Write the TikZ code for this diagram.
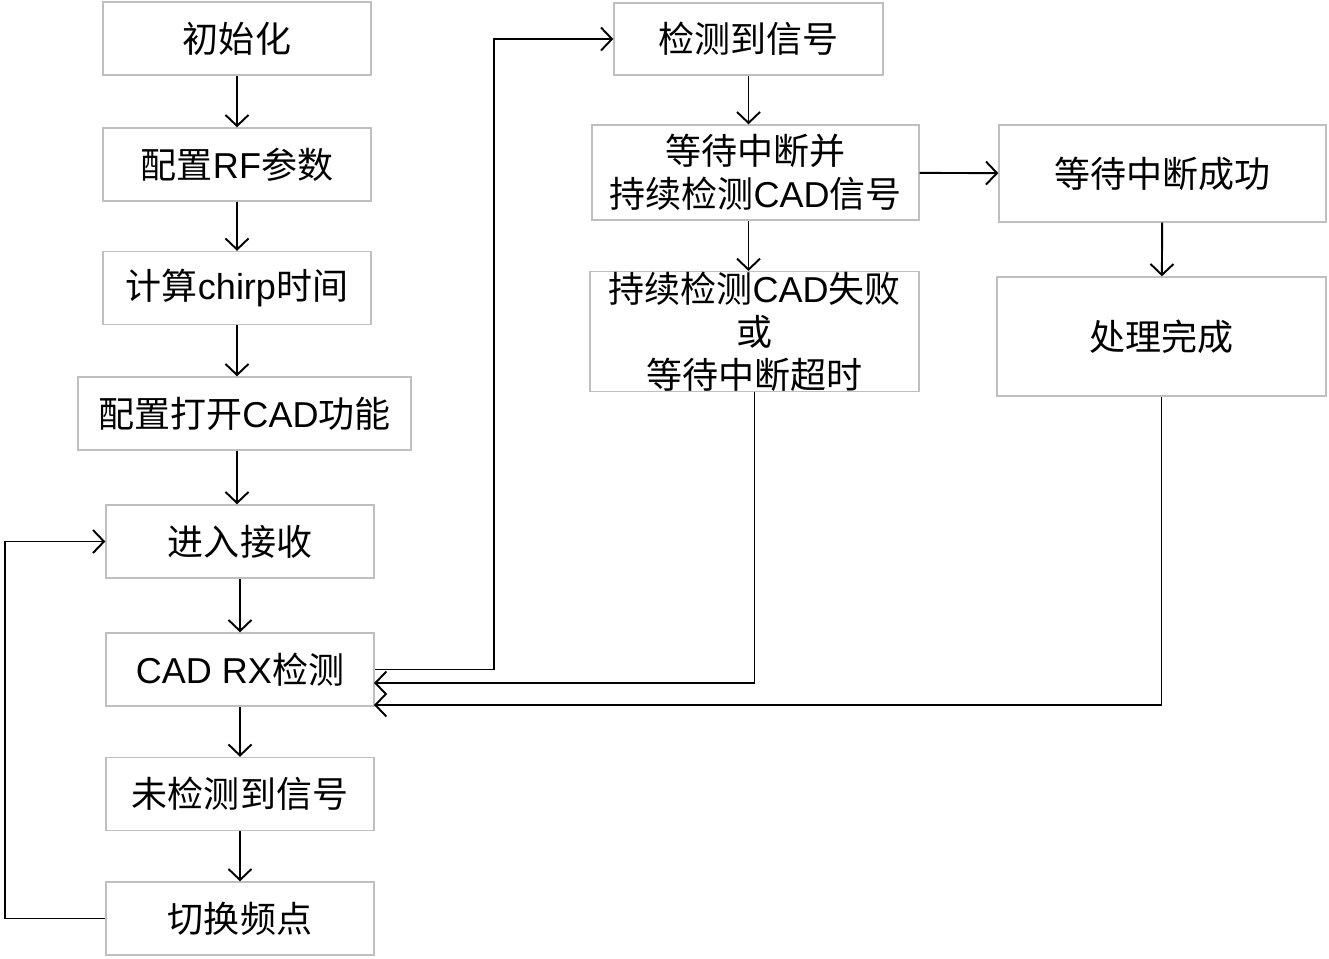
\documentclass[tikz,border=0pt]{standalone}
\usepackage{fontspec}
\setmainfont{Liberation Sans}
\newfontfamily\cjk{Noto Sans CJK SC}
\usetikzlibrary{arrows.meta}
\definecolor{boxgray}{RGB}{191,191,191}
\tikzset{
  box/.style={draw=boxgray, line width=0.8pt, fill=white, align=center, inner sep=0pt,
    minimum width=5.36cm, minimum height=1.46cm, font=\fontsize{20.5}{24.5}\selectfont},
  link/.style={-{Straight Barb[length=2.2mm,width=4.6mm]}, line width=1.1pt}
}
\begin{document}
\begin{tikzpicture}[x=0.02cm,y=-0.02cm]
        \useasboundingbox (0,0) rectangle (1329,958);
        \node[box] (init) at (237,38.5) {{\cjk 初始化}};
        \node[box] (rf) at (237,164.5) {{\cjk 配置}RF{\cjk 参数}};
        \node[box] (chirp) at (237,288) {{\cjk 计算}chirp{\cjk 时间}};
        \node[box,minimum width=6.66cm] (open) at (244.5,413.5) {{\cjk 配置打开}CAD{\cjk 功能}};
        \node[box] (rx) at (240,541.5) {{\cjk 进入接收}};
        \node[box] (cad) at (240,669.5) {CAD RX{\cjk 检测}};
        \node[box] (none) at (240,794) {{\cjk 未检测到信号}};
        \node[box] (hop) at (240,918.5) {{\cjk 切换频点}};
        \node[box,minimum width=5.38cm,minimum height=1.44cm] (det) at (748.5,39) {{\cjk 检测到信号}};
        \node[box,minimum width=6.54cm,minimum height=1.9cm] (wait) at (755.5,172.5) {{\cjk 等待中断并}\\{\cjk 持续检测}CAD{\cjk 信号}};
        \node[box,minimum width=6.58cm,minimum height=2.38cm] (fail) at (754.5,331.5) {{\cjk 持续检测}CAD{\cjk 失败}\\{\cjk 或}\\{\cjk 等待中断超时}};
        \node[box,minimum width=6.54cm,minimum height=1.94cm] (ok) at (1162.5,173.5) {{\cjk 等待中断成功}};
        \node[box,minimum width=6.58cm,minimum height=2.38cm] (done) at (1161.5,336.5) {{\cjk 处理完成}};
        \coordinate (backl) at (5,918.5);
        \coordinate (upr) at (494,669.5);
        \coordinate (in1) at (374,683);
        \coordinate (in2) at (374,705);
        \draw[link] (init) -- (rf);
        \draw[link] (rf) -- (chirp);
        \draw[link] (chirp) -- (chirp |- open.north);
        \draw[link] (open.south -| chirp) -- (chirp |- rx.north);
        \draw[link] (rx) -- (cad);
        \draw[link] (cad) -- (none);
        \draw[link] (none) -- (hop);
        \draw[link] (hop.west) -- (backl) |- (rx.west);
        \draw[link] (cad.east) -- (upr) |- (det.west);
        \draw[link] (det) -- (det |- wait.north);
        \draw[link] (wait.south -| det) -- (det |- fail.north);
        \draw[link] (wait) -- (ok);
        \draw[link] (ok) -- (done);
        \draw[link] (fail.south) |- (in1);
        \draw[link] (done.south) |- (in2);
\end{tikzpicture}
\end{document}
